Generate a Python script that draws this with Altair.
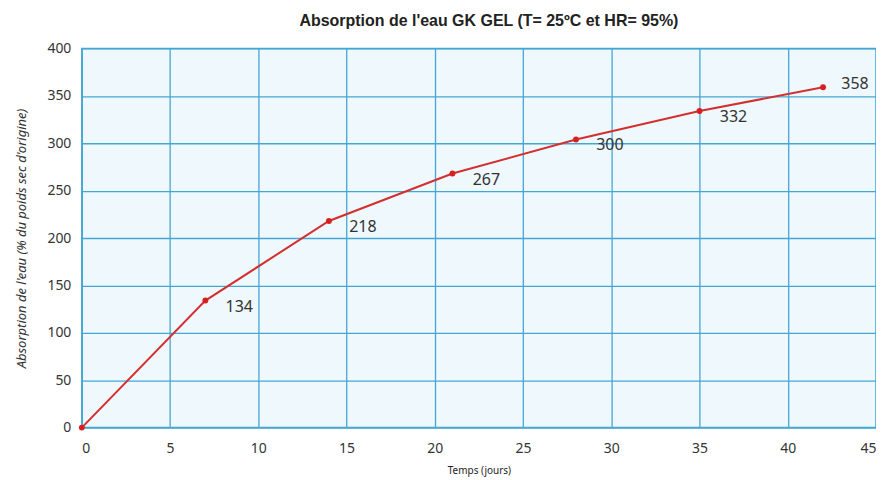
import altair as alt
import pandas as pd

jours = [0, 7, 14, 21, 28, 35, 42]
absorption = [0, 134, 218, 268, 304, 334, 359]
etiquettes = ["", "134", "218", "267", "300", "332", "358"]

df = pd.DataFrame({"jours": jours, "abs": absorption, "lab": etiquettes})

x = alt.X("jours:Q", scale=alt.Scale(domain=[0, 45], nice=False),
          axis=alt.Axis(values=list(range(0, 46, 5)), title="Temps (jours)",
                        grid=True, gridColor="#45a6d3", gridWidth=1.3,
                        domain=False, ticks=False, labelFontSize=14,
                        labelColor="#333333", labelFont="Noto Sans",
                        labelPadding=14, titleFontSize=10, titleFont="Noto Sans",
                        titleFontWeight="normal", titleColor="#222222", titlePadding=10))
y = alt.Y("abs:Q", scale=alt.Scale(domain=[0, 400], nice=False),
          axis=alt.Axis(values=list(range(0, 401, 50)),
                        title="Absorption de l'eau (% du poids sec d'origine)",
                        grid=True, gridColor="#45a6d3", gridWidth=1.3,
                        domain=False, ticks=False, labelFontSize=14,
                        labelColor="#333333", labelFont="Noto Sans",
                        labelPadding=11, titleFontSize=13, titleFont="Noto Sans",
                        titleFontStyle="italic", titleFontWeight="normal",
                        titleColor="#333333", titlePadding=18))

base = alt.Chart(df)
line = base.mark_line(color="#d32f2f", strokeWidth=2).encode(x=x, y=y)
pts = base.mark_circle(color="#d62020", size=35, opacity=1).encode(x=x, y=y)
txt = base.transform_filter("datum.jours < 42").mark_text(
    dx=34, dy=6, fontSize=16, font="Noto Sans", color="#333333").encode(x=x, y=y, text="lab:N")
txt2 = base.transform_filter("datum.jours == 42").mark_text(
    dx=32, dy=-3, fontSize=16, font="Noto Sans", color="#333333").encode(x=x, y=y, text="lab:N")

chart = alt.layer(line, pts, txt, txt2).properties(
    width=796, height=380,
    title=alt.TitleParams("Absorption de l'eau GK GEL (T= 25ºC et HR= 95%)",
                          fontSize=16, font="Liberation Sans", fontWeight="bold",
                          color="#222222", offset=13, dx=10),
    autosize=alt.AutoSizeParams(type="none"),
    padding={"left": 74, "top": 40, "right": 0, "bottom": 52},
).configure_view(fill="#eef8fd", stroke="#45a6d3", strokeWidth=1.5)

chart.save("out.html", embed_options={"renderer": "svg", "actions": False})
